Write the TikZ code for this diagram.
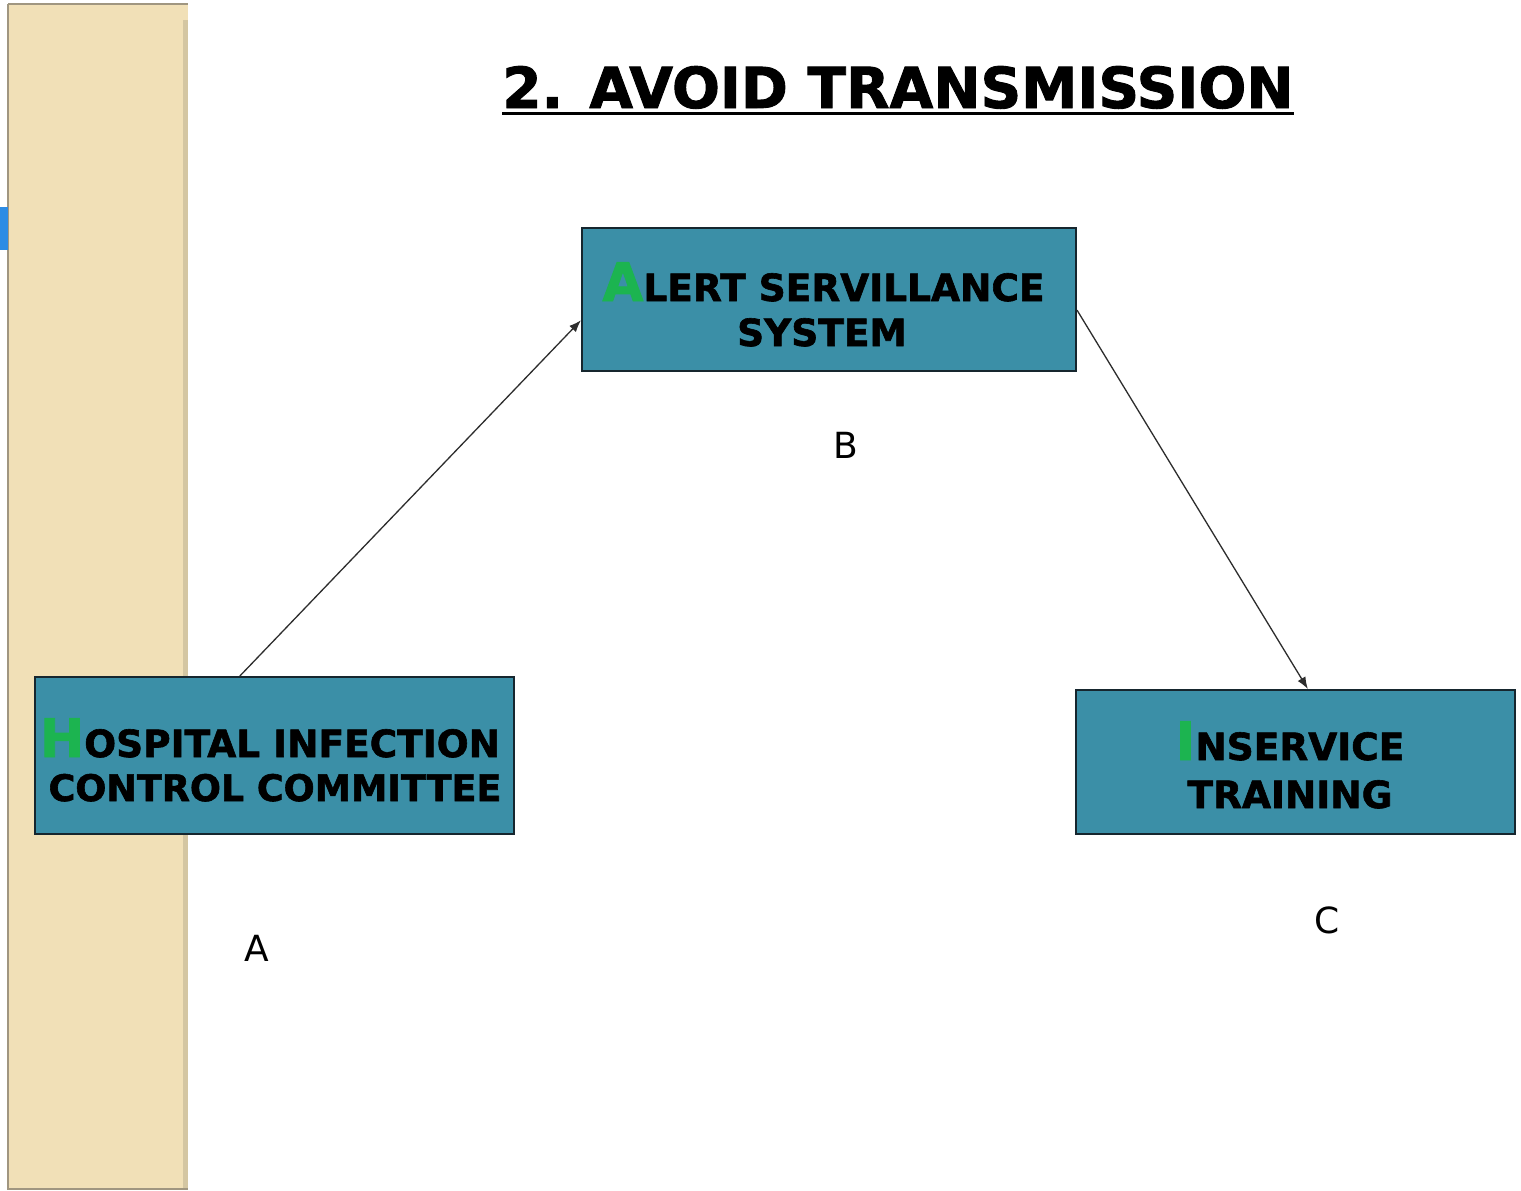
\documentclass[tikz,border=0pt]{standalone}
\usepackage{fontspec}
\setmainfont{DejaVu Sans}
\newfontfamily\heavyfont[FakeBold=1.6]{DejaVu Sans Bold}
\usetikzlibrary{arrows.meta,calc}
\definecolor{stripfill}{RGB}{241,224,183}
\definecolor{stripedge}{RGB}{160,150,128}
\definecolor{stripshade}{RGB}{212,198,162}
\definecolor{tabblue}{RGB}{45,140,228}
\definecolor{boxfill}{RGB}{59,143,167}
\definecolor{boxline}{RGB}{22,38,46}
\definecolor{initial}{RGB}{28,180,80}
\definecolor{arrowcol}{RGB}{45,45,45}
\newcommand{\Ini}[1]{{\fontsize{53}{53}\selectfont\color{initial}#1}}
\tikzset{
  flowbox/.style={draw=boxline, line width=2pt, fill=boxfill, inner sep=0pt},
  boxtext/.style={anchor=base, inner sep=0pt, font=\heavyfont\fontsize{37.5}{37.5}\selectfont},
  tag/.style={inner sep=0pt, font=\fontsize{36}{36}\selectfont},
  link/.style={draw=arrowcol, line width=1.3pt, -{Latex[length=12pt,width=9pt]}}
}
\begin{document}
\begin{tikzpicture}[x=1pt,y=-1pt]
  \useasboundingbox (0,0) rectangle (1521,1191);
  \fill[white] (0,0) rectangle (1521,1191);

  % side strip
  \fill[stripfill] (8,4) rectangle (188,1189);
  \fill[stripshade] (183,20) rectangle (188,1189);
  \draw[stripedge, line width=1.5pt] (8,4) -- (188,4);
  \draw[stripedge, line width=1.5pt] (8,4) -- (8,1189) -- (188,1189);
  \fill[tabblue] (0,207) rectangle (8,250);

  % title
  \node[anchor=base, inner sep=0pt, font=\heavyfont\fontsize{56.5}{56.5}\selectfont] (title) at (898,108) {2. AVOID TRANSMISSION};
  \draw[line width=3pt] ([yshift=-5pt]title.base west) -- ([yshift=-5pt]title.base east);

  % boxes
  \node[flowbox, minimum width=479pt, minimum height=157pt] (A) at (274.5,755.5) {};
  \node[flowbox, minimum width=494pt, minimum height=143pt] (B) at (829,299.5) {};
  \node[flowbox, minimum width=439pt, minimum height=144pt] (C) at (1295.5,762) {};

  \node[boxtext] (A1) at (270,757) {\Ini{H}OSPITAL INFECTION};
  \node[boxtext, font=\heavyfont\fontsize{36.5}{36.5}\selectfont] (A2) at (275,801) {CONTROL COMMITTEE};
  \node[boxtext] (B1) at (823.5,301) {\Ini{A}LERT SERVILLANCE};
  \node[boxtext] (B2) at (822,346) {SYSTEM};
  \node[boxtext] (C1) at (1290,760) {\Ini{I}NSERVICE};
  \node[boxtext] (C2) at (1290,808) {TRAINING};

  % letters under the boxes
  \node[tag] (LA) at (257,948) {A};
  \node[tag] (LB) at (846,445) {B};
  \node[tag] (LC) at (1327,920) {C};

  % connectors
  \draw[link] ($(A.north west)!0.428!(A.north east)$) -- ($(B.north west)!0.643!(B.south west)$);
  \draw[link] ($(B.north east)!0.573!(B.south east)$) -- ($(C.north west)!0.528!(C.north east)$);
\end{tikzpicture}
\end{document}
